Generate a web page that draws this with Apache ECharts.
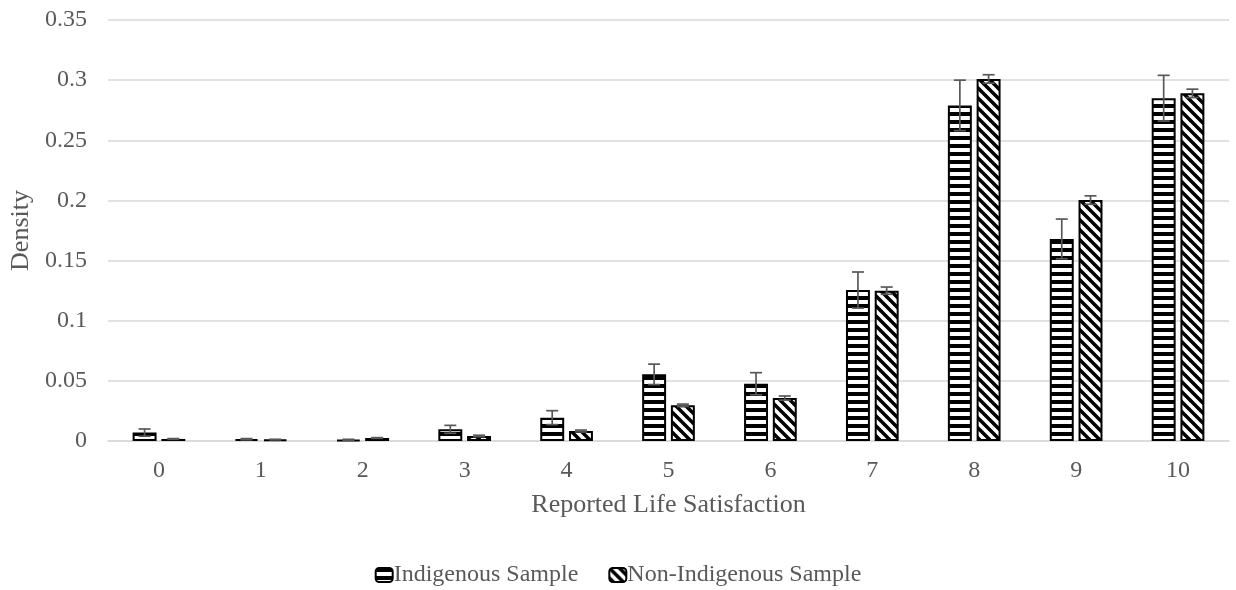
<!DOCTYPE html>
<html>
<head>
<meta charset="utf-8">
<script src="https://cdn.jsdelivr.net/npm/echarts@6/dist/echarts.min.js"></script>
<style>
  html, body { margin: 0; padding: 0; background: #fff; }
  #chart { width: 1236px; height: 590px; }
</style>
</head>
<body>
<div id="chart"></div>
<script>
// data
const categories = ["0", "1", "2", "3", "4", "5", "6", "7", "8", "9", "10"];
const indigenous = [0.007, 0.0015, 0.001, 0.0097, 0.0194, 0.0554, 0.0476, 0.1255, 0.279, 0.168, 0.285];
const indigenousErr = [0.003, 0.0005, 0.0004, 0.0033, 0.0058, 0.0085, 0.0092, 0.015, 0.021, 0.0165, 0.019];
const nonIndigenous = [0.0017, 0.0012, 0.0025, 0.0042, 0.0083, 0.0297, 0.0357, 0.125, 0.301, 0.2003, 0.289];
const nonIndigenousErr = [0.0003, 0.0002, 0.0003, 0.0006, 0.0008, 0.001, 0.0017, 0.003, 0.0035, 0.0035, 0.0035];

const font = "Liberation Serif";
const textColor = "#595959";
const barPct = 0.235;

function stripes() {
  const c = document.createElement("canvas");
  c.width = 8; c.height = 8;
  const ctx = c.getContext("2d");
  ctx.fillStyle = "#fff";
  ctx.fillRect(0, 0, 8, 8);
  ctx.fillStyle = "#000";
  ctx.fillRect(0, 0, 8, 4);
  return c;
}

function diagonal() {
  const s = 10;
  const c = document.createElement("canvas");
  c.width = s; c.height = s;
  const ctx = c.getContext("2d");
  ctx.fillStyle = "#fff";
  ctx.fillRect(0, 0, s, s);
  ctx.strokeStyle = "#000";
  ctx.lineWidth = 3.5;
  ctx.beginPath();
  ctx.moveTo(-2, -2); ctx.lineTo(s + 2, s + 2);
  ctx.moveTo(-2, s - 2); ctx.lineTo(2, s + 2);
  ctx.moveTo(s - 2, -2); ctx.lineTo(s + 2, 2);
  ctx.stroke();
  return c;
}

function errorSeries(values, errs, side) {
  return {
    type: "custom",
    silent: true,
    z: 5,
    data: values.map((v, i) => [i, v, errs[i]]),
    renderItem: (params, api) => {
      const i = api.value(0);
      const v = api.value(1);
      const e = api.value(2);
      const bw = api.size([1, 0])[0] * barPct;
      const x = api.coord([i, v])[0] + side * 0.6 * bw;
      const top = api.coord([i, v + e])[1];
      const bot = api.coord([i, Math.max(v - e, 0)])[1];
      const cap = 6;
      const style = { stroke: "#595959", lineWidth: 1.7 };
      return {
        type: "group",
        children: [
          { type: "line", shape: { x1: x, y1: top, x2: x, y2: bot }, style },
          { type: "line", shape: { x1: x - cap, y1: top, x2: x + cap, y2: top }, style },
          { type: "line", shape: { x1: x - cap, y1: bot, x2: x + cap, y2: bot }, style }
        ]
      };
    }
  };
}

const chart = echarts.init(document.getElementById("chart"));
chart.setOption({
  animation: false,
  textStyle: { fontFamily: font },
  grid: { left: 108, right: 7, top: 20, bottom: 149 },
  legend: {
    top: 558,
    left: "center",
    itemWidth: 17,
    itemHeight: 14,
    itemGap: 30,
    data: ["Indigenous Sample", "Non-Indigenous Sample"],
    textStyle: { fontFamily: font, fontSize: 24, color: textColor, padding: [0, 0, 0, -4] }
  },
  xAxis: {
    type: "category",
    data: categories,
    name: "Reported Life Satisfaction",
    nameLocation: "middle",
    nameGap: 51,
    nameTextStyle: { fontFamily: font, fontSize: 26, color: textColor },
    axisLine: { lineStyle: { color: "#d9d9d9", width: 1.5 } },
    axisTick: { show: false },
    axisLabel: { fontFamily: font, fontSize: 24, color: textColor, margin: 18 }
  },
  yAxis: {
    type: "value",
    min: 0,
    max: 0.35,
    interval: 0.05,
    name: "Density",
    nameLocation: "middle",
    nameGap: 73,
    nameTextStyle: { fontFamily: font, fontSize: 26, color: textColor },
    axisLine: { show: false },
    axisTick: { show: false },
    splitLine: { lineStyle: { color: "#d9d9d9", width: 1.5 } },
    axisLabel: {
      fontFamily: font, fontSize: 24, color: textColor, margin: 21,
      formatter: (v) => String(+v.toFixed(2))
    }
  },
  series: [
    {
      name: "Indigenous Sample",
      type: "bar",
      data: indigenous,
      barWidth: (barPct * 100) + "%",
      barGap: "20%",
      itemStyle: { color: { image: stripes(), repeat: "repeat" }, borderColor: "#000", borderWidth: 2 }
    },
    {
      name: "Non-Indigenous Sample",
      type: "bar",
      data: nonIndigenous,
      barWidth: (barPct * 100) + "%",
      barGap: "20%",
      itemStyle: { color: { image: diagonal(), repeat: "repeat" }, borderColor: "#000", borderWidth: 2 }
    },
    errorSeries(indigenous, indigenousErr, -1),
    errorSeries(nonIndigenous, nonIndigenousErr, 1)
  ]
});
</script>
</body>
</html>
